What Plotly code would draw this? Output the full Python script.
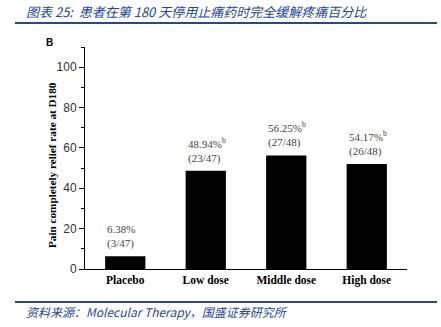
import plotly.graph_objects as go

categories = ["Placebo", "Low dose", "Middle dose", "High dose"]
values = [6.3, 48.7, 56.3, 52.0]
pct_labels = ["6.38%", "48.94%", "56.25%", "54.17%"]
sup_labels = ["", "b", "b", "b"]
count_labels = ["(3/47)", "(23/47)", "(27/48)", "(26/48)"]
y_ticks = [0, 20, 40, 60, 80, 100]

title_text = "图表 25:  患者在第 180 天停用止痛药时完全缓解疼痛百分比"
source_text = "资料来源：Molecular Therapy，国盛证券研究所"
blue = "#23479b"

fig = go.Figure()
fig.add_trace(go.Bar(
    x=list(range(len(categories))), y=values, width=0.5,
    marker=dict(color="black", line=dict(width=0)),
))

serif = "Liberation Serif, Times New Roman, serif"
for i, v in enumerate(values):
    sup = f"<sup>{sup_labels[i]}</sup>" if sup_labels[i] else ""
    fig.add_annotation(
        x=i - 0.25, y=v, xref="x", yref="y",
        text=f"{pct_labels[i]}{sup}<br>{count_labels[i]}",
        showarrow=False, xanchor="left", yanchor="bottom", align="left",
        yshift=4, font=dict(family=serif, size=11, color="#444"),
    )

W, H = 441.0, 327.0
ML, MR, MT, MB = 85, 34, 47, 58
pw, ph = W - ML - MR, H - MT - MB
def px(x):
    return (x - ML) / pw
def py(y):
    return (H - MB - y) / ph

fig.update_layout(
    width=441, height=327,
    margin=dict(l=ML, r=MR, t=MT, b=MB),
    paper_bgcolor="white", plot_bgcolor="white",
    showlegend=False,
    xaxis=dict(
        range=[-0.5, 3.5], tickvals=list(range(len(categories))),
        ticktext=[f"<b>{c}</b>" for c in categories],
        showline=True, linecolor="black", linewidth=1, ticks="",
        tickfont=dict(family=serif, size=11.5, color="black"),
        showgrid=False, zeroline=False,
    ),
    yaxis=dict(
        range=[0, 110], tickvals=y_ticks,
        showline=True, linecolor="black", linewidth=1,
        ticks="outside", ticklen=5, tickcolor="black",
        minor=dict(ticks="outside", ticklen=3, dtick=10, tickcolor="black", showgrid=False),
        tickfont=dict(family="Liberation Sans, Arial", size=12, color="#333"),
        showgrid=False, zeroline=False,
    ),
)

fig.add_annotation(x=px(52), y=py(165), xref="paper", yref="paper",
                   text="<b>Pain completely relief rate at D180</b>", textangle=-90,
                   showarrow=False, xanchor="center", yanchor="middle",
                   font=dict(family=serif, size=11.2, color="black"))
fig.add_annotation(x=px(49), y=py(43), xref="paper", yref="paper", text="<b>B</b>",
                   showarrow=False, xanchor="center", yanchor="middle",
                   font=dict(family="Liberation Sans, Arial", size=10, color="black"))
fig.add_shape(type="line", xref="paper", yref="paper", x0=px(15), x1=px(437), y0=py(23), y1=py(23),
              line=dict(color=blue, width=2))
fig.add_shape(type="line", xref="paper", yref="paper", x0=px(15), x1=px(437), y0=py(302), y1=py(302),
              line=dict(color=blue, width=2))
fig.add_annotation(x=px(24), y=py(11), xref="paper", yref="paper", text=title_text, showarrow=False,
                   xanchor="left", yanchor="middle",
                   font=dict(family="Noto Sans CJK SC", size=13, color=blue, style="italic"))
fig.add_annotation(x=px(24), y=py(311), xref="paper", yref="paper", text=source_text, showarrow=False,
                   xanchor="left", yanchor="middle",
                   font=dict(family="Noto Sans CJK SC", size=12, color=blue, style="italic"))

fig.write_html("out.html")
